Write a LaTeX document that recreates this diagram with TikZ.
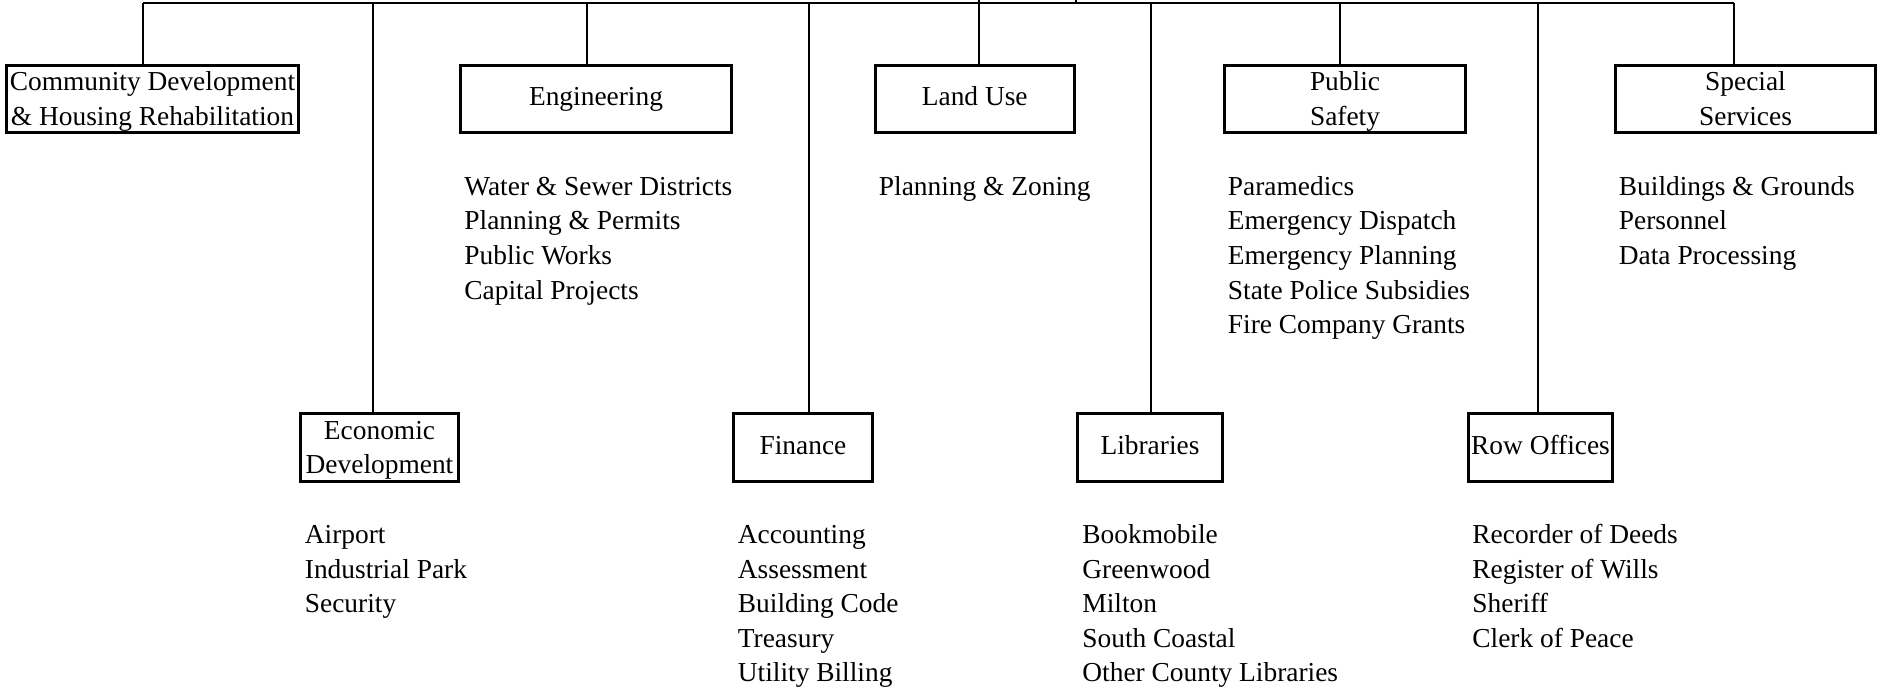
\documentclass[tikz,border=0pt]{standalone}
\usepackage{fontspec}
\setmainfont{Liberation Serif}
\newcommand\onestrut{\rule[-3pt]{0pt}{13pt}}
\newcommand\topstrut{\rule{0pt}{11.9pt}}
\newcommand\botstrut{\rule[-3pt]{0pt}{3pt}}
\newcommand\liststrut{\rule{0pt}{10pt}}
\begin{document}
\begin{tikzpicture}[x=0.5pt,y=-0.5pt,
  every node/.style={font=\fontsize{13.7pt}{17.3pt}\selectfont},
  deptbox/.style={draw, line width=1.5pt, inner sep=0pt, align=center, minimum height=33.5pt},
  lowbox/.style={deptbox, minimum height=34pt},
  sublist/.style={anchor=north west, inner sep=0pt, align=left},
  conn/.style={line width=0.6pt}]
\useasboundingbox (0,0) rectangle (1879,689);

% top row boxes
\node[deptbox, minimum width=146pt] (comm) at (152.5,99) {\topstrut Community Development\\\& Housing Rehabilitation\botstrut};
\node[deptbox, minimum width=135.5pt] (eng) at (596,99) {\onestrut Engineering};
\node[deptbox, minimum width=99.75pt] (land) at (974.75,99) {\onestrut Land Use};
\node[deptbox, minimum width=120.5pt] (pub) at (1345,99) {\topstrut Public\\Safety\botstrut};
\node[deptbox, minimum width=130pt] (spec) at (1745.5,99) {\topstrut Special\\Services\botstrut};

% bottom row boxes
\node[lowbox, minimum width=79pt] (econ) at (379.5,447.5) {\topstrut Economic\\Development\botstrut};
\node[lowbox, minimum width=69.5pt] (fin) at (803,447.5) {\onestrut Finance};
\node[lowbox, minimum width=72.5pt] (lib) at (1150,447.5) {\onestrut Libraries};
\node[lowbox, minimum width=72pt] (row) at (1540.5,447.5) {\onestrut Row Offices};

% lists
\node[sublist] (englist) at (464,175) {\liststrut Water \& Sewer Districts\\Planning \& Permits\\Public Works\\Capital Projects};
\node[sublist] (landlist) at (878.5,175) {\liststrut Planning \& Zoning};
\node[sublist] (publist) at (1227.5,175) {\liststrut Paramedics\\Emergency Dispatch\\Emergency Planning\\State Police Subsidies\\Fire Company Grants};
\node[sublist] (speclist) at (1618.5,175) {\liststrut Buildings \& Grounds\\Personnel\\Data Processing};
\node[sublist] (econlist) at (304.5,523) {\liststrut Airport\\Industrial Park\\Security};
\node[sublist] (finlist) at (737.5,523) {\liststrut Accounting\\Assessment\\Building Code\\Treasury\\Utility Billing};
\node[sublist] (liblist) at (1082,523) {\liststrut Bookmobile\\Greenwood\\Milton\\South Coastal\\Other County Libraries};
\node[sublist] (rowlist) at (1472,523) {\liststrut Recorder of Deeds\\Register of Wills\\Sheriff\\Clerk of Peace};

% connector points on the top line
\coordinate (s1) at (143,3);
\coordinate (s2) at (373,3);
\coordinate (s3) at (587,3);
\coordinate (s4) at (809,3);
\coordinate (s5) at (979,3);
\coordinate (s6) at (1076,3);
\coordinate (s7) at (1151,3);
\coordinate (s8) at (1340,3);
\coordinate (s9) at (1538,3);
\coordinate (s10) at (1734,3);
\coordinate (p1) at (979,0);
\coordinate (p2) at (1076,0);

\draw[conn] (s1) -- (s10);
\draw[conn] (p1) -- (s5);
\draw[conn] (p2) -- (s6);
\draw[conn] (s1) -- (s1 |- comm.north);
\draw[conn] (s3) -- (s3 |- eng.north);
\draw[conn] (s5) -- (s5 |- land.north);
\draw[conn] (s8) -- (s8 |- pub.north);
\draw[conn] (s10) -- (s10 |- spec.north);
\draw[conn] (s2) -- (s2 |- econ.north);
\draw[conn] (s4) -- (s4 |- fin.north);
\draw[conn] (s7) -- (s7 |- lib.north);
\draw[conn] (s9) -- (s9 |- row.north);
\end{tikzpicture}
\end{document}
